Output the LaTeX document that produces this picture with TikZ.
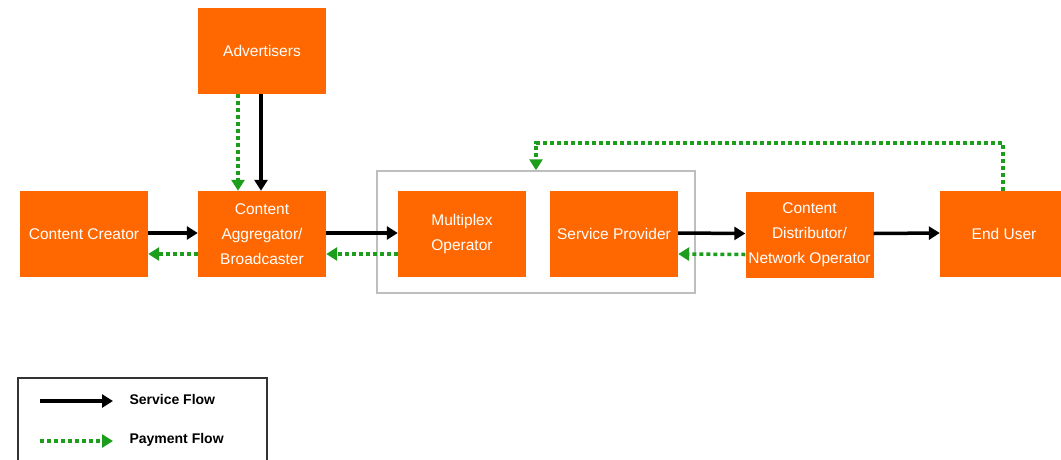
\documentclass[tikz,border=0pt]{standalone}
\usepackage{fontspec}
\setmainfont{Liberation Sans}
\usetikzlibrary{arrows.meta}
\definecolor{boxorange}{RGB}{255,104,0}
\definecolor{paygreen}{RGB}{28,158,28}
\definecolor{grpgray}{RGB}{190,190,190}
\tikzset{% styles for the boxes and the two flows
  box/.style={fill=boxorange, text=white, minimum width=128pt, minimum height=86pt,
    inner sep=0pt, align=center, font=\fontsize{15.5}{25}\selectfont},
  serv/.style={line width=3.5pt, -{Triangle[length=11pt,width=13pt]}},
  pay/.style={paygreen, line width=3.5pt, dash pattern=on 4pt off 3pt,
    -{Triangle[length=11pt,width=13pt]}}
}

\begin{document}
\begin{tikzpicture}[x=1pt, y=-1pt]
\useasboundingbox (0,0) rectangle (1061,459);

% the group round multiplex and service provider
\node [draw=grpgray, line width=1.5pt, minimum width=318pt, minimum height=122pt, inner sep=0pt]
  (grp) at (536,232) {};

% boxes
\node [box] (adv) at (262,50.5) {Advertisers};
\node [box] (creator) at (84,234) {Content Creator};
\node [box] (aggr) at (262,234) {Content\\Aggregator/\\Broadcaster};
\node [box] (mux) at (462,234) {Multiplex\\Operator};
\node [box] (sp) at (614,234) {Service Provider};
\node [box] (dist) at (809.5,234.5) {Content\\Distributor/\\Network Operator};
\node [box] (user) at (1004,234) {End User};

% service flow
\draw [serv] ([xshift=-1pt]adv.south) -- ([xshift=-1pt]aggr.north);
\draw [serv] ([yshift=1pt]creator.east) -- ([yshift=1pt]aggr.west);
\draw [serv] ([yshift=1pt]aggr.east) -- ([yshift=1pt]mux.west);
\draw [serv] ([yshift=1pt]sp.east) -- ([yshift=1pt]dist.west);
\draw [serv] ([yshift=1pt]dist.east) -- ([yshift=1pt]user.west);

% payment flow
\draw [pay] ([xshift=-24pt]adv.south) -- ([xshift=-24pt]aggr.north);
\draw [pay] ([yshift=-20pt]aggr.west) -- ([yshift=-20pt]creator.east);
\draw [pay] ([yshift=-20pt]mux.west) -- ([yshift=-20pt]aggr.east);
\draw [pay] ([yshift=-20pt]dist.west) -- ([yshift=-20pt]sp.east);
\coordinate (turn) at (1003,143);
\draw [pay] ([xshift=-1pt]user.north) -- (turn) -| (grp.north);

% legend
\draw [line width=1.5pt, black!80] (18,378) rectangle (267,480);
\coordinate (s1) at (40,401);
\coordinate (s2) at (113,401);
\coordinate (p1) at (40,441);
\coordinate (p2) at (113,441);
\draw [serv] (s1) -- (s2);
\draw [pay] (p1) -- (p2);
\node [right, font=\fontsize{14}{16}\selectfont\bfseries] (servtxt) at (126,399) {Service Flow};
\node [right, font=\fontsize{14}{16}\selectfont\bfseries] (paytxt) at (126,440) {Payment Flow};

\end{tikzpicture}
\end{document}
